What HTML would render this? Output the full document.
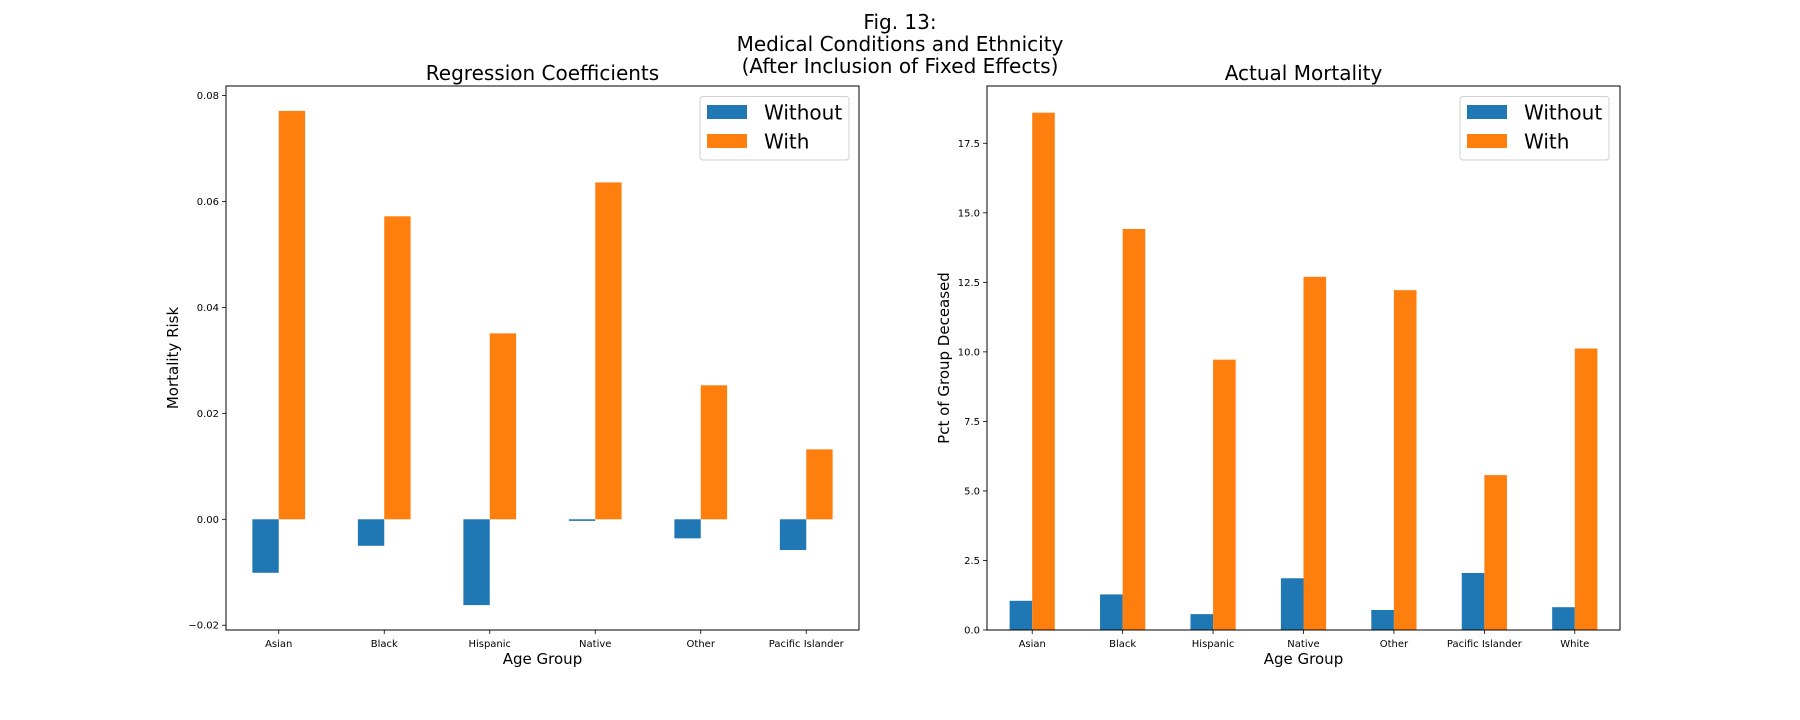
<!DOCTYPE html>
<html><head><meta charset="utf-8"><style>
body{margin:0;background:#fff}
svg{display:block;font-family:"DejaVu Sans","Liberation Sans",sans-serif}
</style></head><body>
<svg id="fig" width="1800" height="720" viewBox="0 0 1800 720">
<rect width="1800" height="720" fill="#fff"/>
<text x="900" y="29" font-size="20" text-anchor="middle">Fig. 13:</text>
<text x="900" y="51" font-size="20" text-anchor="middle">Medical Conditions and Ethnicity</text>
<text x="900" y="73" font-size="20" text-anchor="middle">(After Inclusion of Fixed Effects)</text>
</svg>
<script>
const catsL = ["Asian","Black","Hispanic","Native","Other","Pacific Islander"];
const withoutL = [-0.0101,-0.0050,-0.0162,-0.0003,-0.0036,-0.0058];
const withL = [0.0771,0.0572,0.0351,0.0636,0.0253,0.0132];
const ticksL = [-0.02,0.00,0.02,0.04,0.06,0.08];
const tickLabelsL = ["\u22120.02","0.00","0.02","0.04","0.06","0.08"];

const catsR = ["Asian","Black","Hispanic","Native","Other","Pacific Islander","White"];
const withoutR = [1.05,1.28,0.57,1.86,0.72,2.05,0.82];
const withR = [18.6,14.42,9.72,12.7,12.22,5.57,10.12];
const ticksR = [0,2.5,5,7.5,10,12.5,15,17.5];
const tickLabelsR = ["0.0","2.5","5.0","7.5","10.0","12.5","15.0","17.5"];

const svg = document.getElementById('fig');
const NS = "http://www.w3.org/2000/svg";
function mk(tag, attrs, parent){const e=document.createElementNS(NS,tag);for(const k in attrs)e.setAttribute(k,attrs[k]);(parent||svg).appendChild(e);return e;}

function panel(prefix, x0, x1, y0, y1, ymin, ymax, cats, w0, w1, ticks, tlabels, title, ylab, legX){
  const g = mk('g',{});
  
  
  const n = cats.length;
  const xs = i => x0 + (i+0.5)*(x1-x0)/n;
  const bw = (x1-x0)/n*0.25;
  const ys = v => y1 - (v-ymin)/(ymax-ymin)*(y1-y0);
  cats.forEach((c,i)=>{
    const a = ys(w0[i]), b = ys(0);
    const r1 = mk('rect',{x:xs(i)-bw,y:Math.min(a,b),width:bw,height:Math.max(Math.abs(a-b),0.8),fill:'#1f77b4'},g);
    
    
    const a2 = ys(w1[i]);
    const r2 = mk('rect',{x:xs(i),y:Math.min(a2,b),width:bw,height:Math.abs(a2-b),fill:'#ff7f0e'},g);
    
    
    mk('line',{x1:xs(i),x2:xs(i),y1:y1,y2:y1+4,stroke:'#000','stroke-width':0.8},g);
    const t = mk('text',{x:xs(i),y:y1+17,'font-size':10,'text-anchor':'middle'},g);
    t.textContent = c;
    
    
  });
  ticks.forEach((v,i)=>{
    const y = ys(v);
    mk('line',{x1:x0-4,x2:x0,y1:y,y2:y,stroke:'#000','stroke-width':0.8},g);
    const t = mk('text',{x:x0-7,y:y+3.5,'font-size':10,'text-anchor':'end'},g);
    t.textContent = tlabels[i];
    
    
  });
  const fr = mk('rect',{x:x0,y:y0,width:x1-x0,height:y1-y0,fill:'none',stroke:'#000','stroke-width':1},g);
  
  
  const tt = mk('text',{x:(x0+x1)/2,y:y0-6,'font-size':20,'text-anchor':'middle'},g);
  tt.textContent = title;
  
  
  const xl = mk('text',{x:(x0+x1)/2,y:664,'font-size':15,'text-anchor':'middle'},g);
  xl.textContent = 'Age Group';
  
  
  const lx = prefix==='left'?178:949;
  const yl = mk('text',{x:lx,y:(y0+y1)/2,'font-size':15,'text-anchor':'middle',transform:`rotate(-90 ${lx} ${(y0+y1)/2})`},g);
  yl.textContent = ylab;
  
  
  const lg = mk('g',{},g);
  
  
  mk('rect',{x:legX,y:96.5,width:149,height:63.5,rx:3,fill:'#fff',stroke:'#d0d0d0','stroke-width':1},lg);
  mk('rect',{x:legX+7,y:105,width:40,height:14,fill:'#1f77b4'},lg);
  mk('rect',{x:legX+7,y:134,width:40,height:14,fill:'#ff7f0e'},lg);
  const l1 = mk('text',{x:legX+64,y:119.5,'font-size':20},lg);
  l1.textContent='Without';
  
  
  const l2 = mk('text',{x:legX+64,y:148.5,'font-size':20},lg);
  l2.textContent='With';
  
  
}
panel('left',226,859,86,630,-0.0209,0.0818,catsL,withoutL,withL,ticksL,tickLabelsL,'Regression Coefficients','Mortality Risk',700);
panel('right',987,1620,86,630,0,19.56,catsR,withoutR,withR,ticksR,tickLabelsR,'Actual Mortality','Pct of Group Deceased',1460);
</script>
</body></html>
